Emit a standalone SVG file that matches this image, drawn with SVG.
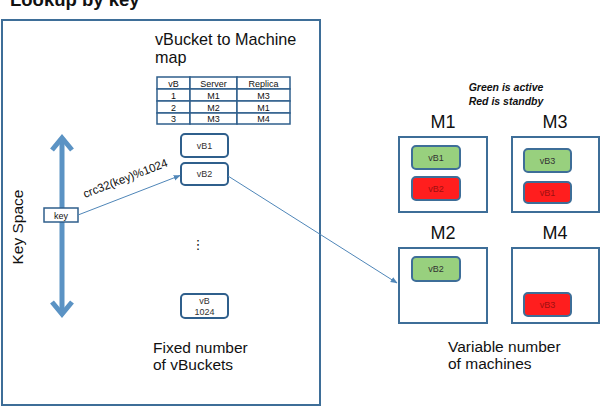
<svg xmlns="http://www.w3.org/2000/svg" width="600" height="408" viewBox="0 0 600 408">
<defs>
<style>
text{font-family:"Liberation Sans","DejaVu Sans",sans-serif;fill:#111}
.frame{fill:#fff;stroke:#3E6E98;stroke-width:2}
.vb{fill:#fff;stroke:#2F5F8C;stroke-width:2}
.tb{fill:#fff;stroke:#2F5F8C;stroke-width:1.5}
.green{fill:#98D07E;stroke:#3E6E98;stroke-width:2}
.red{fill:#FF1E1E;stroke:#3E6E98;stroke-width:2}
.conn{fill:none;stroke:#4F86B8;stroke-width:1}
.big{font-size:15.5px}
.small{font-size:9px;text-anchor:middle}
.vbt{font-size:9px;text-anchor:middle;fill:#333}
.rt{font-size:9px;text-anchor:middle;fill:#A01010}
.mlabel{font-size:18px;text-anchor:middle}
</style>
<marker id="ah" viewBox="0 0 10 10" refX="9" refY="5" markerWidth="7" markerHeight="7" orient="auto" markerUnits="userSpaceOnUse">
<path d="M0,1 L10,5 L0,9 z" fill="#4F86B8"/>
</marker>
</defs>
<text x="10" y="6" style="font-size:18.5px;font-weight:bold">Lookup by key</text>
<rect class="frame" x="2" y="20" width="318" height="385"/>
<g id="title-map">
<text x="155" y="45" style="font-size:16.2px">vBucket to Machine</text>
<text x="155" y="63" style="font-size:16.2px">map</text>
</g>
<g id="table">
<rect class="tb" x="157" y="77" width="33" height="12"/>
<rect class="tb" x="190" y="77" width="47" height="12"/>
<rect class="tb" x="237" y="77" width="53" height="12"/>
<rect class="tb" x="157" y="89" width="33" height="12"/>
<rect class="tb" x="190" y="89" width="47" height="12"/>
<rect class="tb" x="237" y="89" width="53" height="12"/>
<rect class="tb" x="157" y="101" width="33" height="12"/>
<rect class="tb" x="190" y="101" width="47" height="12"/>
<rect class="tb" x="237" y="101" width="53" height="12"/>
<rect class="tb" x="157" y="113" width="33" height="11"/>
<rect class="tb" x="190" y="113" width="47" height="11"/>
<rect class="tb" x="237" y="113" width="53" height="11"/>
<text class="small" x="173.5" y="86.5">vB</text>
<text class="small" x="213.5" y="86.5">Server</text>
<text class="small" x="263.5" y="86.5">Replica</text>
<text class="small" x="173.5" y="98.5">1</text>
<text class="small" x="213.5" y="98.5">M1</text>
<text class="small" x="263.5" y="98.5">M3</text>
<text class="small" x="173.5" y="110.5">2</text>
<text class="small" x="213.5" y="110.5">M2</text>
<text class="small" x="263.5" y="110.5">M1</text>
<text class="small" x="173.5" y="122">3</text>
<text class="small" x="213.5" y="122">M3</text>
<text class="small" x="263.5" y="122">M4</text>
</g>
<g id="keyspace">
<line x1="62" y1="139" x2="62" y2="313" stroke="#5B93C4" stroke-width="5"/>
<polyline points="52,150 62,138 72,150" fill="none" stroke="#5B93C4" stroke-width="5" stroke-linejoin="miter"/>
<polyline points="52,302 62,314 72,302" fill="none" stroke="#5B93C4" stroke-width="5" stroke-linejoin="miter"/>
<text class="big" transform="translate(23,227) rotate(-90)" text-anchor="middle">Key Space</text>
</g>
<g id="key">
<rect x="44" y="208" width="34" height="14" fill="#fff" stroke="#2F5F8C" stroke-width="1.5"/>
<text class="small" x="61" y="218.5">key</text>
</g>
<g id="vB1">
<rect class="vb" x="181" y="134" width="47" height="23" rx="4"/>
<text class="vbt" x="204.5" y="148.5">vB1</text>
</g>
<g id="vB2">
<rect class="vb" x="181" y="163" width="47" height="22" rx="4"/>
<text class="vbt" x="204.5" y="177">vB2</text>
</g>
<g id="dots">
<text x="198" y="249" style="font-size:13px" text-anchor="middle">⋮</text>
</g>
<g id="vB1024">
<rect class="vb" x="181" y="294" width="47" height="24" rx="4"/>
<text class="vbt" x="204.5" y="304">vB</text>
<text class="vbt" x="204.5" y="314.5">1024</text>
</g>
<text class="big" x="153" y="353">Fixed number</text>
<text class="big" x="153" y="370">of vBuckets</text>
<g id="legend">
<text x="506" y="91" style="font-size:10.5px;font-weight:bold;font-style:italic" text-anchor="middle">Green is active</text>
<text x="506" y="105" style="font-size:10.5px;font-weight:bold;font-style:italic" text-anchor="middle">Red is standby</text>
</g>
<g id="M1">
<text class="mlabel" x="443" y="128">M1</text>
<rect class="frame" x="399" y="137" width="88" height="75"/>
<rect class="green" x="412" y="146" width="48" height="23" rx="4"/>
<text class="vbt" x="436" y="160.5">vB1</text>
<rect class="red" x="412" y="177" width="48" height="23" rx="4"/>
<text class="rt" x="436" y="191.5">vB2</text>
</g>
<g id="M3">
<text class="mlabel" x="555" y="128">M3</text>
<rect class="frame" x="512" y="137" width="87" height="75"/>
<rect class="green" x="524" y="149" width="47" height="23" rx="4"/>
<text class="vbt" x="547.5" y="163.5">vB3</text>
<rect class="red" x="524" y="182" width="47" height="21" rx="4"/>
<text class="rt" x="547.5" y="195.5">vB1</text>
</g>
<g id="M2">
<text class="mlabel" x="443" y="239">M2</text>
<rect class="frame" x="399" y="248" width="88" height="75"/>
<rect class="green" x="412" y="257" width="48" height="24" rx="4"/>
<text class="vbt" x="436" y="272">vB2</text>
</g>
<g id="M4">
<text class="mlabel" x="555" y="239">M4</text>
<rect class="frame" x="512" y="248" width="87" height="75"/>
<rect class="red" x="524" y="293" width="47" height="23" rx="4"/>
<text class="rt" x="547.5" y="307.5">vB3</text>
</g>
<text class="big" x="448" y="352">Variable number</text>
<text class="big" x="448" y="369">of machines</text>
<g id="connectors">
<line class="conn" x1="78" y1="215" x2="180" y2="175.5" marker-end="url(#ah)"/>
<text transform="translate(85,198) rotate(-21)" style="font-size:11.5px">crc32(key)%1024</text>
<line class="conn" x1="228" y1="176" x2="397" y2="283" marker-end="url(#ah)"/>
</g>
</svg>
